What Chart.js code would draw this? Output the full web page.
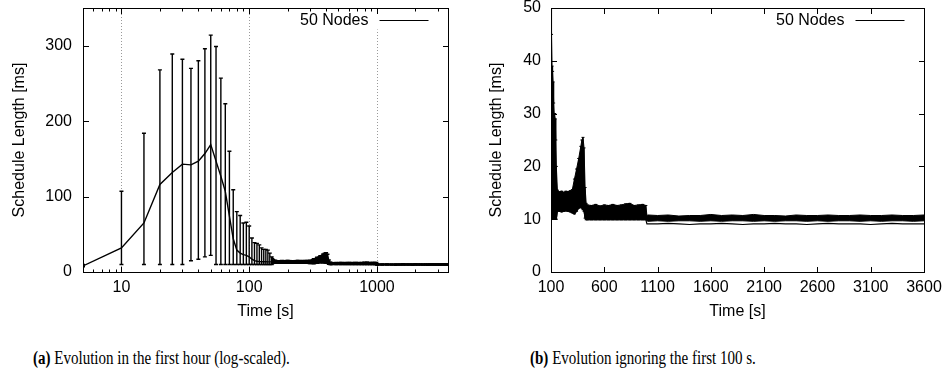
<!DOCTYPE html>
<html><head><meta charset="utf-8">
<script src="https://cdn.jsdelivr.net/npm/chart.js@4/dist/chart.umd.min.js"></script>
<style>
html,body{margin:0;padding:0;background:#fff;width:945px;height:390px;overflow:hidden;}
#ca{position:absolute;left:0;top:0;}
#cb{position:absolute;left:470px;top:0;}
.cap{position:absolute;top:348px;font-family:"Liberation Serif","Times New Roman",serif;font-size:18px;line-height:20px;color:#000;white-space:nowrap;transform:scaleX(0.835);transform-origin:0 0;}
</style></head><body>
<canvas id="ca" width="470" height="330"></canvas>
<canvas id="cb" width="475" height="330"></canvas>
<div class="cap" style="left:33px"><b>(a)</b> Evolution in the first hour (log-scaled).</div>
<div class="cap" style="left:530px"><b>(b)</b> Evolution ignoring the first 100 s.</div>
<script>
const seriesLabel = '50 Nodes';
const timeS = [5,10,15,20,25,30,35,40,45,50,55,60,65,70,75,80,85,90,95,100,105,110,115,120,125,130,135,140,145,150,
  160,180,200,220,240,260,280,300,
  320,340,360,380,
  390,400,410,420,430,440,
  480,520,560,600,640,680,720,760,800,840,880,920,960,
  990,1000,1010,
  1100,1200,1300,1400,1500,1600,1700,1800,1900,2000,2100,2200,2300,2400,2500,2600,2700,2800,2900,3000,3100,3200,3300,3400,3500,3600];
const meanMs = [8,32,65,116,132,143,142,147,157,169,147,127,107,74,44,29,25,23,22,20,17,15,14.2,13.8,13.6,13.5,13.5,13.4,13.4,13.4,
  13.3,13.4,13.3,13.4,13.3,13.4,13.3,13.3,
  14.2,15.5,16.8,18.5,
  19.5,20.2,18.5,13.5,11.4,11.2,
  11.2,11.1,11.2,11.1,11.2,11.2,11.1,11.2,11.3,11.2,11.1,11.2,11.2,
  11.2,10.2,10.1,
  10.1,10.2,10.1,10.1,10.0,10.1,10.2,10.1,10.1,10.1,10.2,10.1,10.0,10.1,10.1,10.2,10.1,10.1,10.1,10.0,10.1,10.2,10.1,10.1,10.1,10.1];
const errLowMs = [7,10,10,10,10,10,15,17,20,22,10,10,10,10,10,10,10,10,10,10,10,10,10,10,10,10,10,10,10,10,
  11.6,11.5,11.4,11.5,11.6,11.5,11.4,11.2,
  11.0,11.5,12.1,12.3,
  12.1,11.8,11.5,10.2,9.9,9.9,
  9.9,9.9,9.9,9.9,9.9,9.9,9.9,9.9,9.9,9.9,9.9,9.9,9.9,
  9.9,9.1,9.1,
  9.1,9.2,9.1,9.0,9.1,9.1,9.2,9.1,9.0,9.1,9.1,9.2,9.1,9.1,9.0,9.1,9.2,9.1,9.1,9.1,9.0,9.1,9.2,9.1,9.1,9.1];
const errHighMs = [10,107,184,268,289,282,270,280,296,314,299,257,223,160,109,80,75,65,66,61,45,39,38,36,32,30,30,29,25,20,
  15.5,15.2,15.3,15.1,15.3,15.2,15.4,15.6,
  17.6,19.5,21.5,23.8,
  25.0,25.5,23.5,16.0,13.0,12.7,
  12.6,12.8,12.5,12.7,12.6,12.8,12.6,12.7,12.9,13.0,12.6,12.7,12.8,
  12.6,10.7,10.8,
  10.7,10.8,10.6,10.7,10.7,10.9,10.7,10.8,10.7,10.9,10.7,10.7,10.6,10.8,10.7,10.7,10.8,10.7,10.7,10.8,10.7,10.7,10.8,10.7,10.7,10.8];
// lower edge of the densely packed error bars (right panel)
const bandLowMs = [7,10,10,10,10,10,15,17,20,22,10,10,10,10,10,10,10,10,10,10,10,10,10,10,10,10,10,10,10,10,
  11.6,11.5,11.4,11.5,11.6,11.5,11.4,11.2,
  11.0,11.5,12.1,12.3,
  12.1,11.8,11.5,10.2,9.9,9.9,
  9.9,9.9,9.9,9.9,9.9,9.9,9.9,9.9,9.9,9.9,9.9,9.9,9.9,
  9.9,9.7,9.6,
  9.7,9.6,9.7,9.7,9.6,9.7,9.6,9.7,9.7,9.6,9.7,9.6,9.7,9.7,9.6,9.7,9.6,9.7,9.7,9.6,9.7,9.6,9.7,9.7,9.6,9.7];
const xTicksLog = [10, 100, 1000];
const xMinorLog = [6,7,8,9,20,30,40,50,60,70,80,90,200,300,400,500,600,700,800,900,2000,3000];
const yTicksA = [0, 100, 200, 300];
const xTicksB = [100, 600, 1100, 1600, 2100, 2600, 3100, 3600];
const yTicksB = [0, 10, 20, 30, 40, 50];

const FONT = '"Liberation Sans", Arial, Helvetica, sans-serif';
const FS = 16;
Chart.defaults.font.family = FONT;
Chart.defaults.font.size = FS;
Chart.defaults.color = '#000';

function pts(ys, tMin, tMax) {
  const out = [];
  timeS.forEach((t, i) => { if (t >= tMin && t <= tMax) out.push({x: t, y: ys[i]}); });
  return out;
}

const gnuFrame = {
  id: 'gnuFrame',
  beforeDatasetsDraw(chart, args, o) {
    const {ctx, chartArea: a} = chart; const x = chart.scales.x;
    if (!o.grid) return;
    ctx.save();
    ctx.strokeStyle = '#9a9a9a'; ctx.lineWidth = 1; ctx.setLineDash([1, 2]);
    o.grid.forEach(v => {
      const px = Math.round(x.getPixelForValue(v)) + 0.5;
      ctx.beginPath(); ctx.moveTo(px, a.top); ctx.lineTo(px, a.bottom); ctx.stroke();
    });
    ctx.restore();
  },
  afterDatasetsDraw(chart, args, o) {
    const eb = o.errorBars; if (!eb) return;
    const {ctx, chartArea: a} = chart; const x = chart.scales.x, y = chart.scales.y;
    ctx.save();
    ctx.beginPath(); ctx.rect(a.left, a.top, a.right - a.left, a.bottom - a.top); ctx.clip();
    ctx.strokeStyle = '#000'; ctx.lineWidth = eb.width;
    timeS.forEach((t, i) => {
      if (t < eb.from || t > eb.to) return;
      const px = x.getPixelForValue(t);
      const y1 = y.getPixelForValue(errLowMs[i]);
      const y2 = y.getPixelForValue(errHighMs[i]);
      ctx.beginPath();
      ctx.moveTo(px, y1); ctx.lineTo(px, y2);
      ctx.moveTo(px - eb.cap, y1); ctx.lineTo(px + eb.cap, y1);
      ctx.moveTo(px - eb.cap, y2); ctx.lineTo(px + eb.cap, y2);
      ctx.stroke();
    });
    ctx.restore();
  },
  afterDraw(chart, args, o) {
    const {ctx, chartArea: a} = chart; const x = chart.scales.x, y = chart.scales.y;
    const L = Math.round(a.left) + 0.5, R = Math.round(a.right) + 0.5;
    const T = Math.round(a.top) + 0.5, B = Math.round(a.bottom) + 0.5;
    ctx.save();
    // legend key
    const ly = T + 12;
    ctx.fillStyle = '#fff';
    ctx.fillRect(R - 150, T + 1, 128, 20);
    ctx.fillStyle = '#000';
    ctx.font = FS + 'px ' + FONT;
    ctx.textAlign = 'right'; ctx.textBaseline = 'middle';
    ctx.fillText(chart.data.datasets[0].label, R - 80, ly + 0.5);
    ctx.strokeStyle = '#000'; ctx.lineWidth = 1.2;
    ctx.beginPath(); ctx.moveTo(R - 69, ly); ctx.lineTo(R - 20, ly); ctx.stroke();
    // frame
    ctx.lineWidth = 1;
    ctx.strokeRect(L, T, R - L, B - T);
    ctx.beginPath();
    o.xMajor.forEach(v => {
      const px = Math.round(x.getPixelForValue(v)) + 0.5;
      ctx.moveTo(px, B); ctx.lineTo(px, B - 5.5);
      ctx.moveTo(px, T); ctx.lineTo(px, T + 5.5);
    });
    (o.xMinor || []).forEach(v => {
      const px = Math.round(x.getPixelForValue(v)) + 0.5;
      ctx.moveTo(px, B); ctx.lineTo(px, B - 3);
      ctx.moveTo(px, T); ctx.lineTo(px, T + 3);
    });
    o.yMajor.forEach(v => {
      const py = Math.round(y.getPixelForValue(v)) + 0.5;
      ctx.moveTo(L, py); ctx.lineTo(L + 5.5, py);
      ctx.moveTo(R, py); ctx.lineTo(R - 5.5, py);
    });
    ctx.stroke();
    ctx.restore();
  }
};

function xAxis(type, min, max, ticks, tickPad, titlePadBottom) {
  return {
    type, min, max,
    grid: {display: false, drawTicks: false}, border: {display: false},
    afterBuildTicks(s) { s.ticks = ticks.map(v => ({value: v})); },
    afterFit(s) { s.height = 58; s.paddingLeft = 0; s.paddingRight = 0; },
    ticks: {autoSkip: false, maxRotation: 0, padding: tickPad, callback: v => String(v), font: {size: FS}},
    title: {display: true, text: 'Time [s]', font: {size: FS}, padding: {top: 0, bottom: titlePadBottom}}
  };
}
function yAxis(min, max, ticks, width, tickPad, titlePadTop) {
  return {
    type: 'linear', min, max,
    grid: {display: false, drawTicks: false}, border: {display: false},
    afterBuildTicks(s) { s.ticks = ticks.map(v => ({value: v})); },
    afterFit(s) { s.width = width; s.paddingTop = 0; s.paddingBottom = 0; },
    ticks: {padding: tickPad, callback: v => String(v), font: {size: FS}},
    title: {display: true, text: 'Schedule Length [ms]', font: {size: FS}, padding: {top: titlePadTop, bottom: 0}}
  };
}

new Chart(document.getElementById('ca'), {
  type: 'line',
  data: {datasets: [
    {label: seriesLabel, data: pts(meanMs, 0, 4000), borderColor: '#000', borderWidth: 1.4, pointRadius: 0, tension: 0, fill: false},
    {label: 'hi', data: pts(errHighMs, 150, 4000), borderColor: '#000', backgroundColor: '#000', borderWidth: 1.2, pointRadius: 0, tension: 0, fill: '+1'},
    {label: 'lo', data: pts(errLowMs, 150, 4000), borderColor: '#000', borderWidth: 1.2, pointRadius: 0, tension: 0, fill: false}
  ]},
  options: {
    responsive: false, animation: false,
    layout: {padding: {left: 0, top: 8, right: 22, bottom: 0}},
    scales: {
      x: xAxis('logarithmic', 5, 3600, xTicksLog, 5.7, 9.2),
      y: yAxis(0, 350, yTicksA, 83, 11, 9.6)
    },
    plugins: {
      legend: {display: false}, tooltip: {enabled: false},
      gnuFrame: {grid: xTicksLog, xMajor: xTicksLog, xMinor: xMinorLog, yMajor: yTicksA,
        errorBars: {from: 0, to: 4000, width: 1.4, cap: 2}}
    }
  },
  plugins: [gnuFrame]
});

new Chart(document.getElementById('cb'), {
  type: 'line',
  data: {datasets: [
    {label: seriesLabel, data: pts(meanMs, 100, 4000), borderColor: '#000', borderWidth: 1, pointRadius: 0, tension: 0, fill: false},
    {label: 'hi', data: pts(errHighMs, 100, 4000), borderColor: '#000', backgroundColor: '#000', borderWidth: 1, pointRadius: 0, tension: 0, fill: '+1'},
    {label: 'band', data: pts(bandLowMs, 100, 4000), borderColor: '#000', borderWidth: 1, pointRadius: 0, tension: 0, fill: false},
    {label: 'lo', data: pts(errLowMs, 100, 4000), borderColor: '#000', borderWidth: 1.2, pointRadius: 0, tension: 0, fill: false}
  ]},
  options: {
    responsive: false, animation: false,
    layout: {padding: {left: 0, top: 8, right: 21, bottom: 0}},
    scales: {
      x: xAxis('linear', 100, 3600, xTicksB, 5.7, 8.7),
      y: yAxis(0, 50, yTicksB, 81, 10, 17.1)
    },
    plugins: {
      legend: {display: false}, tooltip: {enabled: false},
      gnuFrame: {xMajor: xTicksB, yMajor: yTicksB,
        errorBars: {from: 100, to: 990, width: 1, cap: 1.5}}
    }
  },
  plugins: [gnuFrame]
});
</script>
</body></html>
